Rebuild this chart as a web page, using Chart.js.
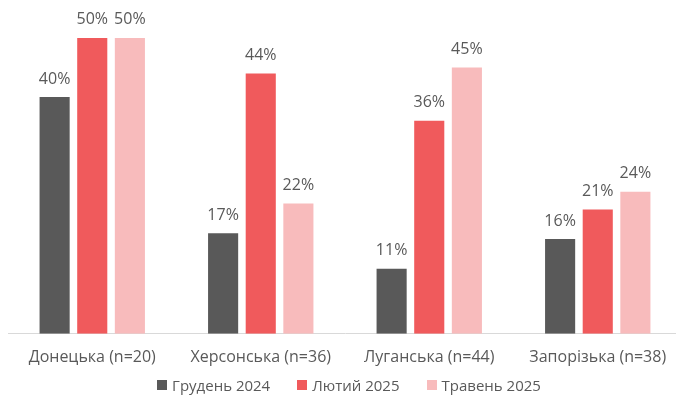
<!doctype html>
<html lang="uk">
  <head>
    <meta charset="utf-8">
    <title>Регіони</title>
    <style>
      html, body {
        margin: 0;
        padding: 0;
        overflow: hidden;
        background: #fff;
      }
      .chartBox {
        position: relative;
        width: 686px;
        height: 403px;
      }
      .legend {
        position: absolute;
        left: 0;
        top: 376px;
        width: 698px;
        display: flex;
        justify-content: center;
        gap: 27px;
        font-family: "Open Sans", sans-serif;
        font-size: 15px;
        line-height: 18px;
        color: #595959;
      }
      .legend span {
        display: flex;
        align-items: center;
      }
      .legend i {
        display: inline-block;
        width: 10px;
        height: 10px;
        margin-right: 5px;
      }
    </style>
  </head>
  <body>
    <div class="chartBox">
      <canvas id="myChart" width="686" height="403"></canvas>
      <div class="legend" id="legend"></div>
    </div>

    <script src="https://cdn.jsdelivr.net/npm/chart.js"></script>
    <script>
    // data
    const categories = ['Донецька (n=20)', 'Херсонська (n=36)', 'Луганська (n=44)', 'Запорізька (n=38)'];
    const seriesNames = ['Грудень 2024', 'Лютий 2025', 'Травень 2025'];
    const dec2024 = [40, 17, 11, 16];
    const feb2025 = [50, 44, 36, 21];
    const may2025 = [50, 22, 45, 24];

    const colors = ['#595959', '#F05A5C', '#F8BBBC'];
    const textColor = '#595959';
    const fontFamily = '"Open Sans", sans-serif';

    // value labels above bars
    const valueLabels = {
      id: 'valueLabels',
      afterDatasetsDraw(chart) {
        const { ctx } = chart;
        ctx.save();
        ctx.font = '16px ' + fontFamily;
        ctx.fillStyle = textColor;
        ctx.textAlign = 'center';
        ctx.textBaseline = 'bottom';
        chart.data.datasets.forEach((ds, i) => {
          chart.getDatasetMeta(i).data.forEach((bar, j) => {
            ctx.fillText(ds.data[j] + '%', bar.x, bar.y - 10);
          });
        });
        ctx.restore();
      }
    };

    Chart.defaults.font.family = fontFamily;
    Chart.defaults.color = textColor;

    const data = {
      labels: categories,
      datasets: [dec2024, feb2025, may2025].map((vals, i) => ({
        label: seriesNames[i],
        data: vals,
        backgroundColor: colors[i],
        categoryPercentage: 0.67,
        barPercentage: 0.8
      }))
    };

    const config = {
      type: 'bar',
      data,
      options: {
        responsive: false,
        animation: false,
        layout: {
          padding: { left: 8, right: 4, top: 0, bottom: 22 }
        },
        plugins: {
          tooltip: { enabled: false },
          legend: { display: false }
        },
        scales: {
          x: {
            grid: { display: false, drawTicks: false },
            border: { color: '#D9D9D9', width: 1 },
            ticks: { padding: 14, font: { size: 16 }, color: textColor }
          },
          y: {
            min: 0,
            max: 56.4,
            display: false
          }
        }
      },
      plugins: [valueLabels]
    };

    const myChart = new Chart(document.getElementById('myChart'), config);

    // simple html legend (Excel-style spacing)
    document.getElementById('legend').innerHTML = seriesNames
      .map((name, i) => `<span><i style="background:${colors[i]}"></i>${name}</span>`)
      .join('');
    </script>
  </body>
</html>
